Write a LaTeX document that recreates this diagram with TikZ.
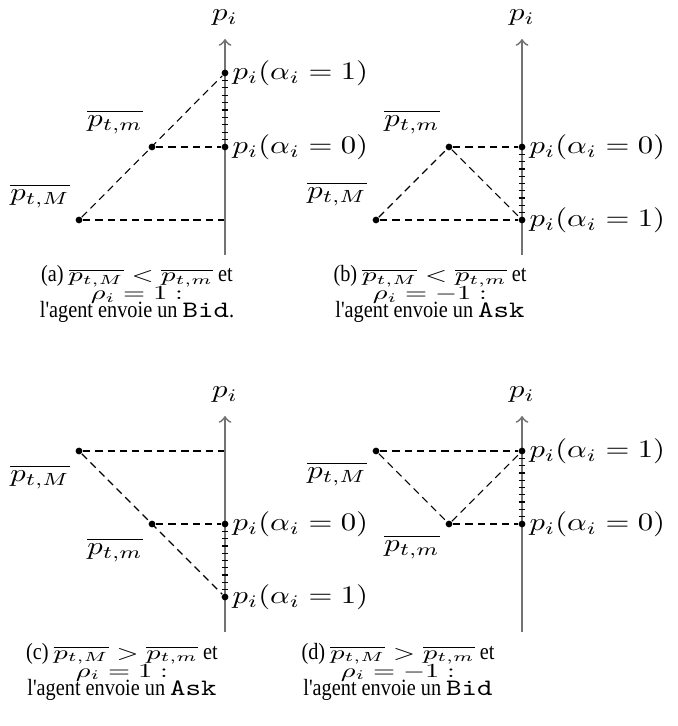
\documentclass[tikz,border=0pt]{standalone}
\usepackage{graphicx}
\usepackage{fontspec}
\newfontfamily\capfontX[FakeStretch=0.87]{Liberation Serif}
\newcommand{\sqz}[1]{\scalebox{1}[0.82]{#1}}
\newcommand{\csqz}[1]{\scalebox{1}[0.72]{\fontsize{9}{11}\selectfont #1}}
\newcommand{\capt}[1]{{\fontsize{7.6}{9}\capfontX #1}}
\newcommand{\mono}[1]{\scalebox{1}[0.8]{\fontsize{9.6}{11}\ttfamily #1}}
\begin{document}
\begin{tikzpicture}[x=0.326pt,y=-0.326pt,
  axisline/.style={draw=black!55, line width=0.6pt, ->, >=to},
  dashline/.style={dash pattern=on 2.4pt off 1.6pt, line width=0.35pt},
  tickline/.style={line width=0.4pt},
  dotnode/.style={circle, fill=black, inner sep=0pt, minimum size=2.2pt},
  ptnode/.style={inner sep=0pt, minimum size=0pt},
  lab/.style={inner sep=0pt, font=\fontsize{10}{12}\selectfont},
  vallab/.style={inner sep=0pt, anchor=west, font=\fontsize{10}{12}\selectfont},
  captxt/.style={inner sep=0pt, anchor=base, font=\fontsize{10}{12}\selectfont}
]
\useasboundingbox (0,0) rectangle (677,726);

% ---------- (a) ----------
\node[lab] (pa) at (225,18) {\sqz{$p_i$}};
\coordinate (aBot) at (225,255);
\coordinate (aTop) at (225,39);
\draw[axisline] (aBot) -- (aTop);
\foreach \k in {1,...,9} \draw[tickline] (221.7,73+\k*7.4) -- (228.3,73+\k*7.4);
\node[dotnode] (a1) at (225,73) {};
\node[dotnode] (a0) at (225,147) {};
\node[dotnode] (am) at (152,147) {};
\node[dotnode] (aM) at (79,220) {};
\node[ptnode] (aX) at (225,220) {};
\draw[dashline] (aM) -- (a1);
\draw[dashline] (am) -- (a0);
\draw[dashline] (aM) -- (aX);
\node[vallab] (la1) at (232,73) {\sqz{$p_i(\alpha_i=1)$}};
\node[vallab] (la0) at (232,147) {\sqz{$p_i(\alpha_i=0)$}};
\node[lab] (lam) at (115,122) {\sqz{$\overline{p_{t,m}}$}};
\node[lab] (laM) at (40,196) {\sqz{$\overline{p_{t,M}}$}};
\node[captxt] (ca1) at (137,282) {\capt{(a) }\csqz{$\overline{p_{t,M}}<\overline{p_{t,m}}$}\capt{ et}};
\node[captxt] (ca2) at (137,300) {\csqz{$\rho_i=1:$}};
\node[captxt] (ca3) at (137,318) {\capt{l'agent envoie un }\mono{Bid}\capt{.}};

% ---------- (b) ----------
\node[lab] (pb) at (522,18) {\sqz{$p_i$}};
\coordinate (bBot) at (522,255);
\coordinate (bTop) at (522,39);
\draw[axisline] (bBot) -- (bTop);
\foreach \k in {1,...,9} \draw[tickline] (518.7,147+\k*7.3) -- (525.3,147+\k*7.3);
\node[dotnode] (b0) at (522,147) {};
\node[dotnode] (b1) at (522,220) {};
\node[dotnode] (bm) at (449,147) {};
\node[dotnode] (bM) at (376,220) {};
\draw[dashline] (bm) -- (b0);
\draw[dashline] (bM) -- (b1);
\draw[dashline] (bM) -- (bm);
\draw[dashline] (bm) -- (b1);
\node[vallab] (lb0) at (529,147) {\sqz{$p_i(\alpha_i=0)$}};
\node[vallab] (lb1) at (529,220) {\sqz{$p_i(\alpha_i=1)$}};
\node[lab] (lbm) at (412,122) {\sqz{$\overline{p_{t,m}}$}};
\node[lab] (lbM) at (337,194) {\sqz{$\overline{p_{t,M}}$}};
\node[captxt] (cb1) at (430,282) {\capt{(b) }\csqz{$\overline{p_{t,M}}<\overline{p_{t,m}}$}\capt{ et}};
\node[captxt] (cb2) at (430,300) {\csqz{$\rho_i=-1:$}};
\node[captxt] (cb3) at (430,318) {\capt{l'agent envoie un }\mono{Ask}};

% ---------- (c) ----------
\node[lab] (pc) at (225,395) {\sqz{$p_i$}};
\coordinate (cBot) at (225,632);
\coordinate (cTop) at (225,416);
\draw[axisline] (cBot) -- (cTop);
\foreach \k in {1,...,9} \draw[tickline] (221.7,524+\k*7.3) -- (228.3,524+\k*7.3);
\node[dotnode] (c0) at (225,524) {};
\node[dotnode] (c1) at (225,597) {};
\node[dotnode] (cm) at (152,524) {};
\node[dotnode] (cM) at (79,451) {};
\node[ptnode] (cX) at (225,451) {};
\draw[dashline] (cM) -- (cX);
\draw[dashline] (cm) -- (c0);
\draw[dashline] (cM) -- (c1);
\node[vallab] (lc0) at (232,524) {\sqz{$p_i(\alpha_i=0)$}};
\node[vallab] (lc1) at (232,597) {\sqz{$p_i(\alpha_i=1)$}};
\node[lab] (lcM) at (40,477) {\sqz{$\overline{p_{t,M}}$}};
\node[lab] (lcm) at (115,550) {\sqz{$\overline{p_{t,m}}$}};
\node[captxt] (cc1) at (122,659) {\capt{(c) }\csqz{$\overline{p_{t,M}}>\overline{p_{t,m}}$}\capt{ et}};
\node[captxt] (cc2) at (122,677) {\csqz{$\rho_i=1:$}};
\node[captxt] (cc3) at (122,695) {\capt{l'agent envoie un }\mono{Ask}};

% ---------- (d) ----------
\node[lab] (pd) at (522,395) {\sqz{$p_i$}};
\coordinate (dBot) at (522,632);
\coordinate (dTop) at (522,416);
\draw[axisline] (dBot) -- (dTop);
\foreach \k in {1,...,9} \draw[tickline] (518.7,451+\k*7.3) -- (525.3,451+\k*7.3);
\node[dotnode] (d1) at (522,451) {};
\node[dotnode] (d0) at (522,524) {};
\node[dotnode] (dm) at (449,524) {};
\node[dotnode] (dM) at (376,451) {};
\draw[dashline] (dM) -- (d1);
\draw[dashline] (dm) -- (d0);
\draw[dashline] (dM) -- (dm);
\draw[dashline] (dm) -- (d1);
\node[vallab] (ld1) at (529,451) {\sqz{$p_i(\alpha_i=1)$}};
\node[vallab] (ld0) at (529,524) {\sqz{$p_i(\alpha_i=0)$}};
\node[lab] (ldM) at (337,474) {\sqz{$\overline{p_{t,M}}$}};
\node[lab] (ldm) at (412,547) {\sqz{$\overline{p_{t,m}}$}};
\node[captxt] (cd1) at (398,659) {\capt{(d) }\csqz{$\overline{p_{t,M}}>\overline{p_{t,m}}$}\capt{ et}};
\node[captxt] (cd2) at (398,677) {\csqz{$\rho_i=-1:$}};
\node[captxt] (cd3) at (398,695) {\capt{l'agent envoie un }\mono{Bid}};
\end{tikzpicture}
\end{document}
